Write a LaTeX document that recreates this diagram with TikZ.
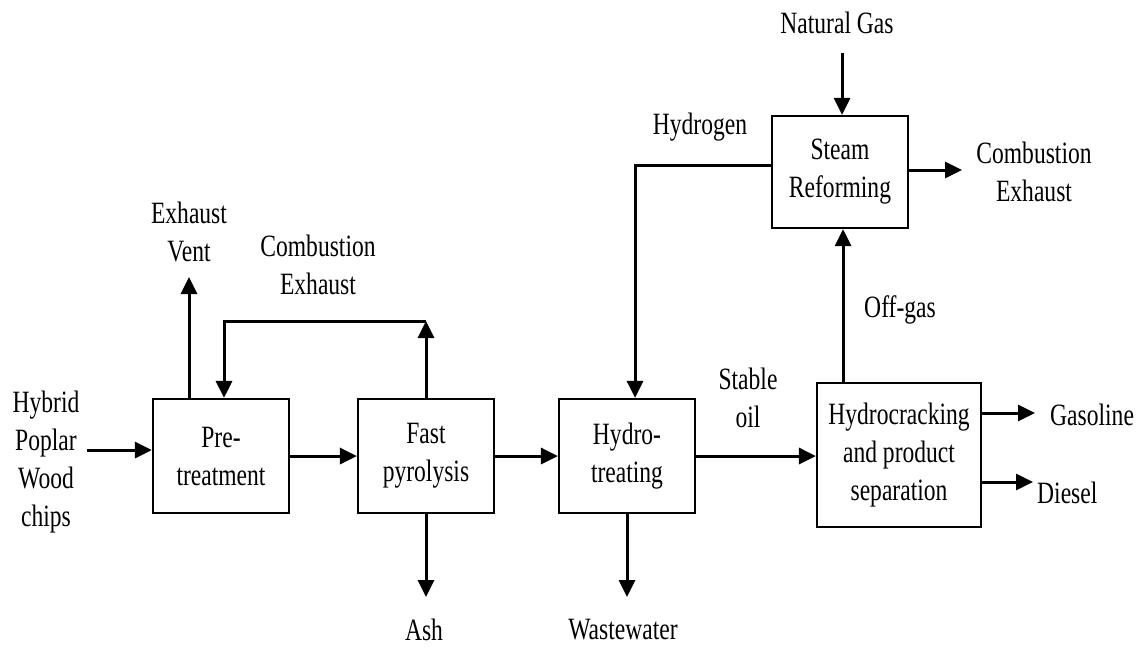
\documentclass[tikz,border=0pt]{standalone}
\usepackage{fontspec}
\setmainfont{Liberation Serif}[FakeStretch=0.76]
\usetikzlibrary{arrows.meta}

\tikzset{
  txt/.style={font=\fontsize{31}{38}\selectfont, align=center, inner sep=0pt},
  unit/.style={txt, draw, line width=2.2pt, minimum width=#1},
  unit/.default=136pt,
  flow/.style={line width=3pt, -{Triangle[length=17pt,width=16pt]}},
}

\begin{document}
\begin{tikzpicture}[x=1pt,y=-1pt]
  \useasboundingbox (0,0) rectangle (1145,646);

  % process units
  \node[unit, minimum height=114pt] (pre)   at (221,456) {Pre-\\treatment};
  \node[unit, minimum height=114pt] (fast)  at (426,456) {Fast\\pyrolysis};
  \node[unit, minimum height=114pt] (hydro) at (627,456) {Hydro-\\treating};
  \node[unit=164pt, minimum height=144pt] (hc) at (899,455) {Hydrocracking\\and product\\separation};
  \node[unit, minimum height=112pt] (sr)    at (840,172) {Steam\\Reforming};

  % stream labels
  \node[txt] (feedlbl) at (46,462)  {Hybrid\\Poplar\\Wood\\chips};
  \node[txt] (ventlbl) at (189,232) {Exhaust\\Vent};
  \node[txt] (comblbl) at (318,265) {Combustion\\Exhaust};
  \node[txt] (ashlbl)  at (424,630) {Ash};
  \node[txt] (wwlbl)   at (623,630) {Wastewater};
  \node[txt] (oillbl)  at (748,398) {Stable\\oil};
  \node[txt] (h2lbl)   at (700,127) {Hydrogen};
  \node[txt] (nglbl)   at (837,23)  {Natural Gas};
  \node[txt] (srexlbl) at (1034,172) {Combustion\\Exhaust};
  \node[txt] (oglbl)   at (900,310) {Off-gas};
  \node[txt, anchor=west] (gaslbl) at (1050,415) {Gasoline};
  \node[txt, anchor=west] (dslbl)  at (1037,493) {Diesel};

  % free ends and bends of the streams
  \coordinate (feed)  at (87,450);
  \coordinate (vent)  at (189,277);
  \coordinate (loopR) at (426,321);
  \coordinate (loopL) at (224,321);
  \coordinate (ash)   at (426,597);
  \coordinate (ww)    at (627,597);
  \coordinate (h2)    at (635,165);
  \coordinate (ng)    at (842,53);
  \coordinate (srex)  at (962,170);
  \coordinate (og)    at (843,0);
  \coordinate (gas)   at (1035,413);
  \coordinate (dsl)   at (1033,482);

  % main line
  \draw[flow] (feed) -- (feed -| pre.west);
  \draw[flow] (pre) -- (fast);
  \draw[flow] (fast) -- (hydro);
  \draw[flow] (hydro.east) -- (hydro.east -| hc.west);

  % pretreatment and pyrolysis side streams
  \draw[flow] (vent |- pre.north) -- (vent);
  \draw[flow] (fast.north) -- (loopR);
  \draw[flow] (loopR) -- (loopL) -- (loopL |- pre.north);
  \draw[flow] (fast.south) -- (ash);
  \draw[flow] (hydro.south) -- (ww);

  % hydrogen loop
  \draw[flow] (h2 -| sr.west) -- (h2) -- (h2 |- hydro.north);
  \draw[flow] (ng) -- (ng |- sr.north);
  \draw[flow] (sr.east |- srex) -- (srex);
  \draw[flow] (og |- hc.north) -- (og |- sr.south);

  % products
  \draw[flow] (hc.east |- gas) -- (gas);
  \draw[flow] (hc.east |- dsl) -- (dsl);
\end{tikzpicture}
\end{document}
